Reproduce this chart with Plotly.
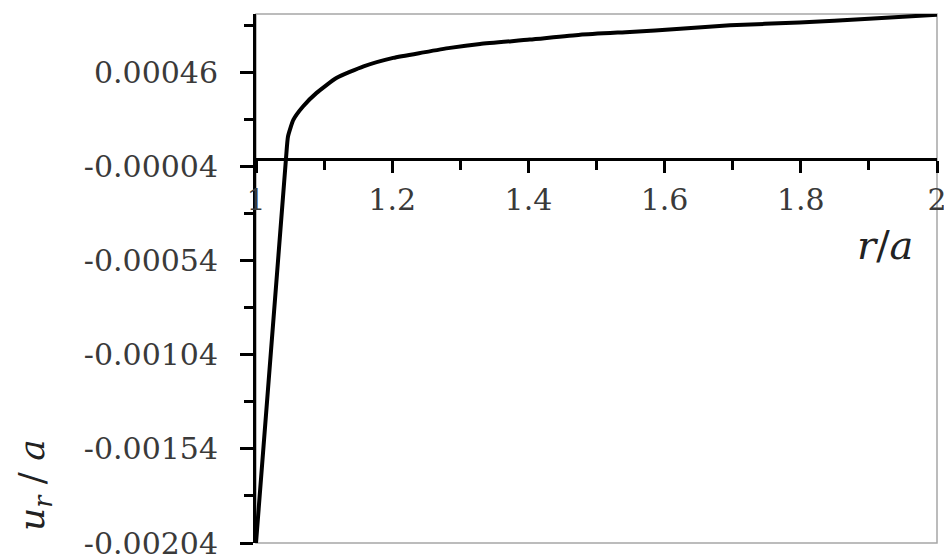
import plotly.graph_objects as go

r_over_a = [1.0, 1.044, 1.047, 1.055, 1.069, 1.089, 1.118, 1.158, 1.2015, 1.246,
            1.285, 1.329, 1.402, 1.476, 1.549, 1.623, 1.696, 1.798, 1.9, 2.0]
ur_over_a = [-0.00204, 0.0, 0.00012, 0.000209, 0.000279, 0.000351, 0.00043, 0.000492,
             0.000537, 0.000566, 0.00059, 0.000611, 0.000634, 0.00066, 0.000675,
             0.000691, 0.00071, 0.000725, 0.000745, 0.000766]

y_ticks = [-0.00204, -0.00154, -0.00104, -0.00054, -0.00004, 0.00046]
y_ticktext = ["-0.00204", "-0.00154", "-0.00104", "-0.00054", "-0.00004", "0.00046"]
y_minor = [-0.00179, -0.00129, -0.00079, -0.00029, 0.00021, 0.00071]
x_ticks = [1, 1.2, 1.4, 1.6, 1.8, 2]
x_ticktext = ["1", "1.2", "1.4", "1.6", "1.8", "2"]

y_range = [-0.00204, 0.00077]
x_range = [1, 2]

# x axis crosses at u_r/a = 0
x_axis_pos = (0 - y_range[0]) / (y_range[1] - y_range[0])

FONT = "DejaVu Serif"
fig = go.Figure()
fig.add_trace(go.Scatter(
    x=r_over_a, y=ur_over_a, mode="lines",
    line=dict(color="black", width=4, shape="spline", smoothing=0.5),
    showlegend=False, hoverinfo="skip",
))

# thin grey plot-area border
fig.add_shape(type="rect", xref="paper", yref="paper", x0=0, x1=1, y0=0, y1=1,
              line=dict(color="#a6a6a6", width=1.5), layer="below")

# page body adds an 8px offset; margins compensate so the plot lands in place
fig.update_layout(
    width=952, height=560,
    margin=dict(l=248, r=23, t=6, b=25),
    paper_bgcolor="white", plot_bgcolor="white",
    font=dict(family=FONT, color="#3a3a3a", size=30),
    xaxis=dict(
        range=x_range, tickmode="array", tickvals=x_ticks, ticktext=x_ticktext,
        anchor="free", position=x_axis_pos, automargin=False,
        ticklabeloverflow="allow",
        showline=True, linecolor="black", linewidth=3,
        ticks="outside", ticklen=12, tickwidth=3, tickcolor="black",
        ticklabelstandoff=1,
        minor=dict(dtick=0.1, tick0=1, ticks="outside", ticklen=9, tickwidth=3, tickcolor="black"),
        showgrid=False, zeroline=False,
    ),
    yaxis=dict(
        range=y_range, tickmode="array", tickvals=y_ticks, ticktext=y_ticktext,
        automargin=False, ticklabeloverflow="allow",
        showline=True, linecolor="black", linewidth=3,
        ticks="outside", ticklen=13, tickwidth=3, tickcolor="black",
        ticklabelstandoff=16,
        minor=dict(tickvals=y_minor, ticks="outside", ticklen=9, tickwidth=3, tickcolor="black"),
        showgrid=False, zeroline=False,
    ),
    annotations=[
        dict(text="<i>r</i>/<i>a</i>", xref="paper", yref="paper", x=0.923, y=0.563,
             showarrow=False, xanchor="center", yanchor="middle",
             font=dict(family=FONT, size=40, color="#222222")),
        dict(text="<i>u<sub>r</sub></i> / <i>a</i>", xref="paper", yref="paper", x=-0.325, y=0.109,
             showarrow=False, xanchor="center", yanchor="middle", textangle=-90,
             font=dict(family=FONT, size=36, color="#222222")),
    ],
)

fig.write_html("out.html")
